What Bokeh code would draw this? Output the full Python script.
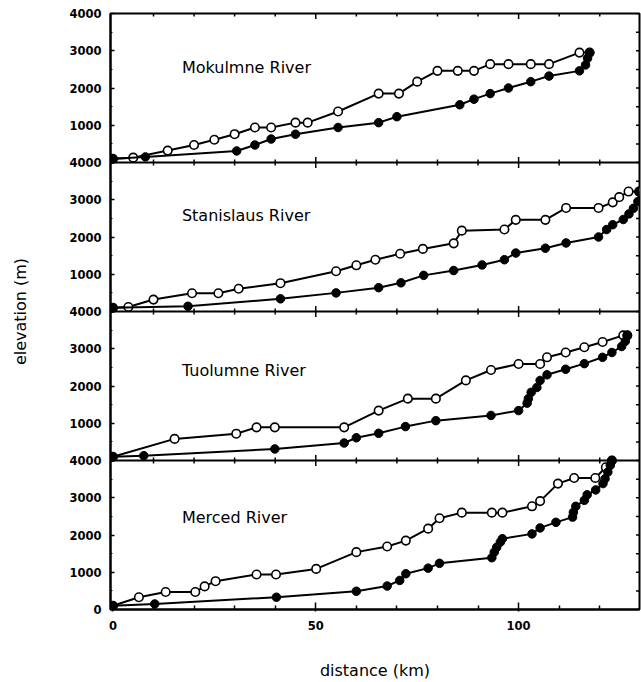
import numpy as np
from bokeh.plotting import figure
from bokeh.models import Range1d, FixedTicker, Span, Label, ColumnDataSource
from bokeh.embed import file_html
from bokeh.resources import INLINE

# ---- river long profiles: distance (km) vs elevation (m) ----
RIVERS = ["Mokulmne River", "Stanislaus River", "Tuolumne River", "Merced River"]

mok_open_x = [0, 5, 13.5, 20, 25, 30, 35, 39, 45, 48, 55.5, 65.5, 70.5, 75, 80, 85, 89, 93, 97.5, 103, 107.5, 115, 117.5]
mok_open_y = [100, 130, 320, 470, 610, 760, 940, 940, 1070, 1070, 1370, 1850, 1850, 2170, 2460, 2460, 2460, 2640, 2640, 2640, 2640, 2950, 2950]
mok_fill_x = [0, 8, 30.5, 35, 39, 45, 55.5, 65.5, 70, 85.5, 89, 93, 97.5, 103, 107.5, 115, 116.5, 117, 117.5]
mok_fill_y = [100, 150, 310, 470, 630, 760, 940, 1070, 1230, 1550, 1700, 1850, 2000, 2170, 2320, 2460, 2620, 2800, 2950]

sta_open_x = [0, 3.8, 10, 19.5, 26, 31, 41.3, 55, 60, 64.7, 70.8, 76.4, 84, 86, 96.5, 99.3, 106.6, 111.7, 119.7, 123.2, 124.8, 127.1, 129.7]
sta_open_y = [100, 120, 320, 490, 490, 610, 760, 1080, 1240, 1390, 1550, 1680, 1830, 2170, 2200, 2460, 2460, 2780, 2780, 2930, 3070, 3220, 3220]
sta_fill_x = [0, 18.5, 41.3, 55, 65.5, 71, 76.6, 84, 91, 96.5, 99.3, 106.6, 111.7, 119.7, 121.7, 123.2, 125.8, 127.2, 128.3, 129.4, 129.7]
sta_fill_y = [100, 140, 340, 500, 640, 770, 970, 1100, 1250, 1390, 1570, 1700, 1840, 2000, 2200, 2330, 2470, 2620, 2770, 2950, 3220]

tuo_open_x = [0, 15.2, 30.4, 35.4, 39.9, 57, 65.5, 72.7, 79.6, 87, 93.2, 100, 105.3, 107, 111.6, 116.2, 120.7, 125.8, 126.8]
tuo_open_y = [100, 580, 720, 890, 890, 890, 1340, 1660, 1660, 2150, 2430, 2590, 2590, 2770, 2900, 3040, 3180, 3360, 3360]
tuo_fill_x = [0, 7.6, 39.9, 57, 60, 65.5, 72.1, 79.6, 93.2, 100, 102.1, 102.4, 103.1, 104.5, 105.3, 107, 111.6, 116.2, 120.7, 123, 125.4, 126.3, 126.8]
tuo_fill_y = [100, 130, 310, 470, 610, 730, 910, 1070, 1210, 1340, 1540, 1660, 1830, 1960, 2150, 2300, 2450, 2600, 2770, 2900, 3060, 3200, 3360]

mer_open_x = [0, 6.4, 13, 20.3, 22.6, 25.3, 35.4, 40.2, 50.1, 60, 67.6, 72.2, 77.7, 80.5, 86, 93.4, 96, 103.3, 105.3, 109.7, 113.7, 118.9, 121.5, 123]
mer_open_y = [100, 330, 470, 470, 620, 760, 940, 940, 1090, 1540, 1690, 1850, 2170, 2450, 2600, 2600, 2600, 2770, 2910, 3380, 3530, 3530, 3820, 4000]
mer_fill_x = [0, 10.3, 40.3, 60, 67.6, 70.7, 72.2, 77.7, 80.5, 93.4, 94, 94.6, 95.5, 96, 103.3, 105.3, 109.2, 113.3, 113.5, 114.1, 116.2, 116.9, 119, 120.8, 121.3, 122, 122.6, 123]
mer_fill_y = [100, 150, 330, 490, 630, 780, 960, 1110, 1240, 1390, 1540, 1670, 1810, 1900, 2030, 2190, 2340, 2480, 2610, 2770, 2930, 3080, 3210, 3380, 3510, 3690, 3870, 4000]

OPEN_X = [mok_open_x, sta_open_x, tuo_open_x, mer_open_x]
OPEN_Y = [mok_open_y, sta_open_y, tuo_open_y, mer_open_y]
FILL_X = [mok_fill_x, sta_fill_x, tuo_fill_x, mer_fill_x]
FILL_Y = [mok_fill_y, sta_fill_y, tuo_fill_y, mer_fill_y]

# river name placement (km, m) inside each panel
NAME_X = [17, 17, 17, 17]
NAME_Y = [2540, 2580, 2420, 2470]

# axes
X_MAJOR = [0, 50, 100]
X_MINOR = [10, 20, 30, 40, 60, 70, 80, 90, 110, 120]
ELEV_TICKS = [0, 1000, 2000, 3000, 4000]
ELEV_TICK_LABELS = ["0", "1000", "2000", "3000", "4000"]
ELEV_MINOR = [500, 1500, 2500, 3500]
PANEL_SPAN = 4000

FONT = "DejaVu Sans"
n = len(RIVERS)
total = n * PANEL_SPAN
X_START, X_END = -0.6, 129.8

p = figure(frame_width=529, frame_height=596,
           min_border_left=110, min_border_right=2, min_border_top=13, min_border_bottom=73,
           x_range=Range1d(X_START, X_END), y_range=Range1d(0, total),
           output_backend="svg", toolbar_location=None,
           background_fill_color="white", border_fill_color="white")
p.grid.visible = False
p.outline_line_color = "black"
p.outline_line_width = 2

# one stacked elevation scale per panel (top panel first)
offsets = [(n - 1 - i) * PANEL_SPAN for i in range(n)]
for i, off in enumerate(offsets):
    p.extra_y_ranges[f"panel{i}"] = Range1d(-off, total - off)

# left axis: stacked tick positions labelled with each panel's own elevation
left_ticks, left_minor, left_labels = [], [], {}
for i, off in enumerate(offsets):
    for v, lab in zip(ELEV_TICKS, ELEV_TICK_LABELS):
        if v == 0 and i != n - 1:
            continue
        left_ticks.append(off + v)
        left_labels[off + v] = lab
    left_minor += [off + v for v in ELEV_MINOR]

ya = p.yaxis[0]
ya.ticker = FixedTicker(ticks=left_ticks, minor_ticks=left_minor)
ya.major_label_overrides = left_labels
ya.axis_line_width = 2
ya.major_tick_in = 4
ya.major_tick_out = 0
ya.minor_tick_in = 2
ya.minor_tick_out = 0
ya.major_tick_line_width = 1.5
ya.major_label_standoff = 9
ya.major_label_text_font = FONT
ya.major_label_text_font_style = "bold"
ya.major_label_text_font_size = "11.5px"
ya.major_label_text_color = "black"
ya.axis_label = "elevation (m)"
ya.axis_label_text_font = FONT
ya.axis_label_text_font_style = "normal"
ya.axis_label_text_font_size = "16px"
ya.axis_label_text_color = "black"
ya.axis_label_standoff = 36

# bottom axis
xa = p.xaxis[0]
xa.ticker = FixedTicker(ticks=X_MAJOR, minor_ticks=X_MINOR)
xa.axis_line_width = 2
xa.major_tick_in = 7
xa.major_tick_out = 2
xa.minor_tick_in = 4
xa.minor_tick_out = 0
xa.major_tick_line_width = 1.5
xa.minor_tick_line_width = 1.5
xa.major_label_standoff = 9
xa.major_label_text_font = FONT
xa.major_label_text_font_style = "bold"
xa.major_label_text_font_size = "11.5px"
xa.major_label_text_color = "black"
xa.axis_label = "distance (km)"
xa.axis_label_text_font = FONT
xa.axis_label_text_font_style = "normal"
xa.axis_label_text_font_size = "16px"
xa.axis_label_text_color = "black"
xa.axis_label_standoff = 28

# tick marks along the top and right frame edges and across panel separators;
# the frame clips each dash so only its inward half shows on the outer edges
for off in offsets[:-1]:
    p.add_layout(Span(location=off, dimension="width", line_color="black", line_width=2))
edge_rows = [total] + offsets[:-1]
minor_src = ColumnDataSource(dict(x=[x for _ in edge_rows for x in X_MINOR],
                                  y=[y for y in edge_rows for _ in X_MINOR]))
major_src = ColumnDataSource(dict(x=[x for _ in edge_rows for x in X_MAJOR[1:]],
                                  y=[y for y in edge_rows for _ in X_MAJOR[1:]]))
p.scatter("x", "y", source=minor_src, marker="dash", angle=np.pi / 2, size=6,
          line_color="black", line_width=1.5)
p.scatter("x", "y", source=major_src, marker="dash", angle=np.pi / 2, size=11,
          line_color="black", line_width=1.5)
right_y = sorted(left_ticks + left_minor)
right_src = ColumnDataSource(dict(x=[X_END] * len(right_y), y=right_y))
p.scatter("x", "y", source=right_src, marker="dash", size=7,
          line_color="black", line_width=1.5)

# profiles: open-circle line first, filled-circle line on top
for i in range(n):
    rn = f"panel{i}"
    p.line(OPEN_X[i], OPEN_Y[i], y_range_name=rn, line_color="black", line_width=2)
    p.scatter(OPEN_X[i], OPEN_Y[i], y_range_name=rn, marker="circle", size=8.5,
              fill_color="white", line_color="black", line_width=1.6)
    p.line(FILL_X[i], FILL_Y[i], y_range_name=rn, line_color="black", line_width=2)
    p.scatter(FILL_X[i], FILL_Y[i], y_range_name=rn, marker="circle", size=8.5,
              fill_color="black", line_color="black", line_width=1)
    p.add_layout(Label(x=NAME_X[i], y=NAME_Y[i], y_range_name=rn, text=RIVERS[i],
                       text_font=FONT, text_font_size="16px", text_color="black",
                       text_align="left", text_baseline="middle"))

open("out.html", "w").write(file_html(p, INLINE))
